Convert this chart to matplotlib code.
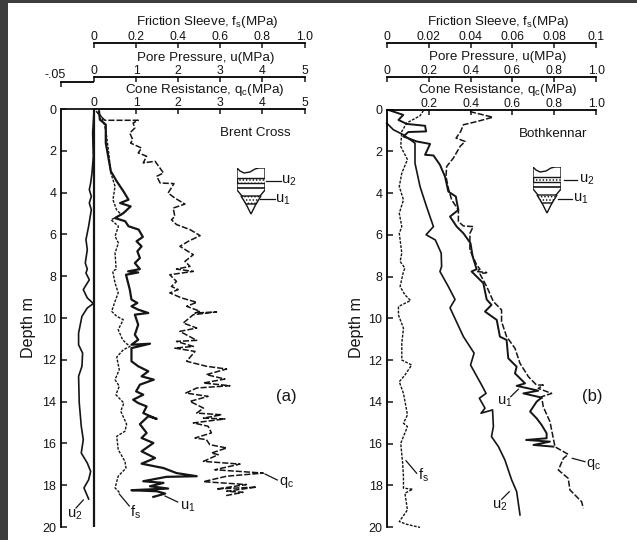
import matplotlib
matplotlib.use("Agg")
import matplotlib.pyplot as plt
from matplotlib.lines import Line2D
from matplotlib.patches import Polygon, Rectangle

plt.rcParams['font.family'] = ['Liberation Sans', 'DejaVu Sans']
plt.rcParams['mathtext.default'] = 'regular'
plt.rcParams['hatch.linewidth'] = 0.7

W, H = 637, 540
INK = '#151515'

#%% Brent Cross: depth (m), qc (MPa), u1 (MPa), u2 (MPa), fs (MPa)
bc_qc_d = [0.1,.27,.54,.54,.67,.91,1.15,1.47,1.63,1.87,2.1,2.26,2.58,2.5,3.06,3.22,3.54,3.57,4.02,4.26,4.55,4.74,5.14,5.3,5.53,5.77,6.06,6.33,6.57,6.97,7.29,7.53,7.66,
           7.77,7.85,7.93,8.25,8.49,8.64,8.8,9.04,9.25,9.44,9.68,9.76,9.71,9.84,10.24,10.48,10.64,11.07,11.12,11.36,11.44,11.6,12.07,12.31,12.44,12.71,12.92,13.11,13.24,13.35,13.59,13.75,13.99,14.31,14.55,14.63,14.79,14.83,15.02,15.18,15.5,15.74,15.82,16.06,16.22,16.46,16.54,16.86,16.99,17.26,17.42,17.57,17.83,17.97,18.18,18.09,18.29,18.34,18.5]
bc_qc = [.05,.12,.26,1.05,.93,.97,.85,.92,.87,1.13,1.05,1.25,1.17,1.45,1.65,1.49,1.57,1.90,1.76,1.92,2.16,1.88,1.92,1.84,1.96,2.28,2.52,2.24,2.04,2.36,2.16,2.28,1.96,
         2.36,2.08,1.80,1.96,1.84,2.0,1.80,2.08,2.44,2.2,2.52,2.4,2.91,2.36,2.12,2.44,2.04,2.44,1.96,2.36,1.92,2.4,2.2,2.67,3.15,2.67,3.11,2.6,3.23,2.44,2.18,2.71,2.28,2.6,2.44,3.03,2.6,3.11,2.36,2.71,2.79,2.4,2.67,2.75,3.15,2.79,2.95,2.6,3.47,2.87,4.02,3.15,2.6,3.62,2.91,3.86,3.15,3.54,3.13]

bc_u1_d = [.11,.51,.75,1.63,2.98,3.46,3.94,4.34,4.5,4.66,4.98,5.22,5.37,5.61,5.77,6.12,6.33,6.57,6.81,7.13,7.37,7.66,
           7.77,7.82,7.93,8.64,9.12,9.28,9.44,9.6,9.76,9.84,10.32,10.8,11.04,11.28,11.23,11.44,12.07,12.31,12.55,12.79,12.95,13.19,13.51,13.67,13.91,14.07,14.23,14.55,14.83,14.7,15.08,15.5,15.74,15.98,16.38,16.7,16.97,17.18,17.42,17.57,17.6,17.81,17.89,18.05,18.16,18.24,18.29,18.4,18.56]
bc_u1 = [.12,.14,.28,.28,.40,.54,.70,.82,.62,.87,.70,.50,.74,.82,1.06,1.16,1.01,1.13,1.03,1.09,.97,1.09,
         .81,1.05,.76,.85,.89,1.03,.89,1.05,1.29,.97,1.05,.97,1.05,.89,1.33,.89,.89,1.05,1.29,1.13,1.42,1.09,1.0,1.17,.93,1.05,1.25,1.17,1.49,1.29,1.09,1.25,1.13,1.41,1.13,1.45,1.13,1.65,1.96,2.44,1.72,1.17,1.65,1.33,1.76,.89,1.49,1.69,1.41]

bc_fs_d = [.27,.75,1.31,2.11,3.06,3.7,4.34,4.82,5.06,5.3,5.61,6.09,6.41,6.89,7.66,
           7.77,8.32,8.8,9.2,9.68,9.92,10.08,10.56,11.04,11.23,11.36,11.52,11.87,12.47,12.95,13.27,13.67,14.07,14.46,15.08,15.42,15.66,16.3,16.86,17.18,17.57,18.13,18.37]
bc_fs = [.03,.05,.06,.07,.08,.10,.09,.107,.13,.081,.116,.10,.116,.10,.105,
         .089,.10,.115,.10,.084,.108,.139,.115,.136,.155,.171,.139,.108,.12,.10,.12,.104,.142,.127,.155,.147,.108,.115,.147,.152,.115,.10,.123]

bc_u2_d = [.1,1.15,2.26,3.06,3.54,3.86,4.18,4.5,4.82,5.61,6.25,6.73,7.37,7.66,
           7.85,8.17,8.64,9.04,9.31,9.52,9.92,10.72,11.28,11.68,12.31,12.79,14.07,15.18,15.82,16.46,16.94,17.34,17.74,18.13,18.66]
bc_u2 = [0,-.002,-.001,-.003,-.005,-.007,-.004,-.007,-.004,-.008,-.012,-.01,-.013,-.01,
         -.012,-.007,-.016,-.01,-.001,-.01,-.018,-.023,-.023,-.017,-.018,-.023,-.022,-.019,-.016,-.019,-.01,-.005,-.008,-.015,-.008]

#%% Bothkennar
bk_qc_d = [.1,.37,.58,.73,1.05,1.37,1.53,1.77,2.33,2.73,3.21,3.77,4.33,4.81,5.37,5.58,5.61,5.93,6.73,7.44,7.65,
           7.76,7.81,7.88,8.48,9.2,9.6,10.16,10.88,11.44,12.16,12.8,13.2,13.2,13.36,13.6,13.76,14.24,14.96,15.36,16.16,16.52,16.71,17.27,17.67,18.22,18.79,19.1]
bk_qc = [.397,.506,.429,.366,.353,.331,.374,.35,.318,.286,.283,.294,.31,.342,.342,.366,.413,.397,.397,.429,.445,
         .429,.477,.445,.477,.509,.548,.548,.572,.612,.636,.676,.715,.747,.723,.787,.739,.747,.779,.787,.803,.866,.843,.819,.866,.874,.93,.938]

bk_u1_d = [.02,.26,.5,.69,.78,1.05,1.08,1.29,1.53,1.65,2.17,2.2,2.65,3.21,3.93,4.17,4.41,4.81,5.13,5.61,5.93,6.41,7.04,7.65,
           7.76,8.32,9.1,9.36,9.68,10.08,10.88,11.04,11.92,12.32,12.64,13.12,13.24,13.36,13.47,13.6,13.8,14.0,14.47,14.79,15.11,15.51,15.75,15.83,15.91,16.07,16.15]
bk_u1 = [.008,.079,.056,.095,.183,.188,.103,.079,.143,.207,.183,.223,.254,.278,.294,.33,.334,.342,.302,.334,.366,.40,.41,.429,
         .405,.461,.477,.5,.469,.525,.54,.572,.58,.62,.612,.66,.62,.676,.723,.652,.739,.715,.684,.715,.739,.763,.763,.665,.779,.70,.795]

bk_u2_d = [.65,.97,1.21,1.61,2.57,3.69,4.65,5.61,6.0,6.25,6.88,7.52,
           7.76,8.48,9.1,9.5,10.88,11.67,12.24,13.2,13.6,13.83,14.31,14.55,14.39,15.19,15.67,16.15,16.79,17.74,18.3,19.42]
bk_u2 = [0,.032,.079,.135,.135,.159,.19,.223,.188,.232,.26,.262,
         .254,.294,.326,.302,.366,.417,.40,.453,.474,.442,.469,.45,.505,.509,.5,.533,.564,.596,.62,.636]

bk_fs_d = [.05,.3,.65,1.05,1.77,2.4,3.05,3.69,4.33,4.97,5.61,5.93,6.88,7.28,7.6,
           7.76,8.48,8.88,9.15,9.44,9.84,10.48,11.2,12,12.24,12.72,13.04,13.6,14.63,15.03,15.19,15.99,16.94,17.58,18.14,18.19,18.38,19.18,19.74,19.87,20.02]
bk_fs = [.0175,.0159,.0095,.0072,.0067,.0099,.0072,.006,.008,.006,.0072,.006,.0072,.0064,.0087,
         .008,.0064,.0087,.0114,.0056,.0056,.008,.0072,.0072,.0119,.0087,.006,.008,.0099,.008,.0099,.0067,.0076,.008,.008,.0124,.0087,.0099,.006,.0095,.0159]

depth_ticks = [0, 2, 4, 6, 8, 10, 12, 14, 16, 18, 20]
fs_labels_a = ['0', '0.2', '0.4', '0.6', '0.8', '1.0']
u_labels_a = ['0', '1', '2', '3', '4', '5']
fs_labels_b = ['0', '0.02', '0.04', '0.06', '0.08', '0.1']
u_labels_b = ['0', '0.2', '0.4', '0.6', '0.8', '1.0']
qc_labels_b = ['0.2', '0.4', '0.6', '0.8', '1.0']

#%%
fig = plt.figure(figsize=(W/100, H/100), dpi=100, facecolor='white')


def px_axes(x0, x1, y0, y1):
    return fig.add_axes([x0/W, 1-y1/H, (x1-x0)/W, (y1-y0)/H])


def px_text(x, y, s, size=9.6, **kw):
    kw.setdefault('ha', 'center')
    kw.setdefault('va', 'center')
    fig.text(x/W, 1-y/H, s, fontsize=size, color=INK, **kw)


def px_line(x0, y0, x1, y1, lw=0.9):
    fig.add_artist(Line2D([x0/W, x1/W], [1-y0/H, 1-y1/H], color=INK, lw=lw))


def top_axis(ax, offset_px, xlim, ticks, labels, bounds):
    ax.set_xlim(*xlim)
    ax.set_facecolor('none')
    for s in ['left', 'right', 'bottom']:
        ax.spines[s].set_visible(False)
    ax.spines['top'].set_position(('outward', offset_px*0.72))
    ax.spines['top'].set_bounds(*bounds)
    ax.spines['top'].set_linewidth(1.3)
    ax.xaxis.tick_top()
    ax.set_xticks(ticks)
    ax.set_xticklabels(labels, fontsize=8.8, color=INK)
    ax.tick_params(axis='x', direction='in', length=3.5, width=1.1, pad=0, color=INK)


def cone(x0, y0):
    # little piezocone sketch, unit = px
    ax = px_axes(x0, x0+28, y0, y0+47)
    ax.set_xlim(0, 28)
    ax.set_ylim(47, 0)
    ax.axis('off')
    outline = [(0, 0), (3, 3), (7, 5), (13, 4), (18, 1), (22, 0), (28, 0),
               (28, 22), (23, 28), (14, 46), (5, 28), (0, 22)]
    ax.add_patch(Polygon(outline, closed=True, fc='white', ec=INK, lw=1.0))
    ax.add_patch(Polygon([(0, 10), (28, 10), (28, 15), (0, 15)], closed=True,
                         fc='white', ec=INK, lw=1.0, hatch='.....'))
    ax.plot([0, 28], [20, 20], color=INK, lw=1.2)
    ax.add_patch(Polygon([(4, 28), (24, 28), (19, 36), (9, 36)], closed=True,
                         fc='white', ec=INK, lw=1.0, hatch='.....'))


def panel(x0, x1, y0, y1):
    ax = px_axes(x0, x1, y0, y1)
    ax.set_ylim(20, 0)
    ax.set_yticks(depth_ticks)
    ax.set_yticklabels([str(d) for d in depth_ticks], fontsize=9, color=INK)
    ax.tick_params(axis='y', direction='in', length=4.5, width=1.1, pad=3, color=INK)
    return ax


def show_depth_spine(ax):
    ax.spines['left'].set_visible(True)
    ax.spines['left'].set_linewidth(1.3)


#%% (a) Brent Cross
x0, xz, x5, yt, yb = 60.5, 94, 304.5, 109, 527
ax_a = panel(x0, x5, yt, yb)
per_mpa = (x5-xz)/5
left_mpa = -(xz-x0)/per_mpa
ax_a.set_xlim(left_mpa, 5)
ax_a.axvline(0, color=INK, lw=1.6)
ax_a.plot(bc_qc, bc_qc_d, color=INK, lw=1.1, ls=(0, (4, 1.3)), clip_on=False)
ax_a.plot(bc_u1, bc_u1_d, color=INK, lw=1.6, clip_on=False)

ax_fs = ax_a.twiny()
top_axis(ax_fs, 66, (left_mpa/5, 1), [0, .2, .4, .6, .8, 1.0], fs_labels_a, (0, 1))
ax_fs.plot(bc_fs, bc_fs_d, color=INK, lw=1.0, ls=(0, (2, 1)))

ax_u = ax_a.twiny()
top_axis(ax_u, 32, (left_mpa, 5), [0, 1, 2, 3, 4, 5], u_labels_a, (0, 5))

# u2 has its own stretched scale left of zero
ax_neg = ax_a.twiny()
neg_right = .05*(x5-x0)/(xz-x0) - .05
top_axis(ax_neg, 27, (-.05, neg_right), [-.05], [''], (-.05, -.002))
ax_neg.plot(bc_u2, bc_u2_d, color=INK, lw=1.2)
ax_neg.plot([-.05, -.002], [0, 0], color=INK, lw=1.3, clip_on=False)
px_text(55, 75, '-.05', size=9)

# twiny moves the ticks of the parent to the bottom, so set these last
top_axis(ax_a, 0, (left_mpa, 5), [0, 1, 2, 3, 4, 5], u_labels_a, (0, 5))
show_depth_spine(ax_a)

px_text(207, 22, 'Friction Sleeve, f$_s$(MPa)')
px_text(205.5, 58, 'Pore Pressure, u(MPa)')
px_text(204.5, 90, 'Cone Resistance, q$_c$(MPa)')
px_text(255.5, 133, 'Brent Cross')
px_text(286, 397, '(a)', size=12)
px_text(29, 328, 'Depth m', size=11.6, rotation=90)

cone(237, 168)
px_line(266, 181, 280.7, 181)
px_text(289, 181, 'u$_2$', size=10.5)
px_line(260, 199.3, 275, 199.3)
px_text(283, 200, 'u$_1$', size=10.5)

px_line(265, 474, 277.3, 480)
px_text(287, 483, 'q$_c$', size=10.5)
px_line(165, 496, 177.7, 502)
px_text(187.7, 507, 'u$_1$', size=10.5)
px_line(119.3, 494, 129.3, 506)
px_text(136, 512, 'f$_s$', size=10.5)
px_line(83.3, 500, 76, 508)
px_text(75, 515, 'u$_2$', size=10.5)

#%% (b) Bothkennar
x0, x1 = 386.7, 596.3
ax_b = panel(x0, x1, 109.5, 527)
ax_b.set_xlim(0, 1)
ax_b.plot(bk_qc, bk_qc_d, color=INK, lw=1.1, ls=(0, (4, 1.3)), clip_on=False)
ax_b.plot(bk_u1, bk_u1_d, color=INK, lw=1.4, clip_on=False)
ax_b.plot(bk_u2, bk_u2_d, color=INK, lw=1.2, clip_on=False)

ax_fs_b = ax_b.twiny()
top_axis(ax_fs_b, 66.5, (0, .1), [0, .02, .04, .06, .08, .1], fs_labels_b, (0, .1))
ax_fs_b.plot(bk_fs, bk_fs_d, color=INK, lw=1.0, ls=(0, (2, 1)), clip_on=False)

ax_u_b = ax_b.twiny()
top_axis(ax_u_b, 32.5, (0, 1), [0, .2, .4, .6, .8, 1.0], u_labels_b, (0, 1))

top_axis(ax_b, 0, (0, 1), [.2, .4, .6, .8, 1.0], qc_labels_b, (0, 1))
show_depth_spine(ax_b)

px_text(498, 22, 'Friction Sleeve, f$_s$(MPa)')
px_text(498, 57, 'Pore Pressure, u(MPa)')
px_text(498, 90, 'Cone Resistance, q$_c$(MPa)')
px_text(552.7, 134, 'Bothkennar')
px_text(592, 397, '(b)', size=12)
px_text(357, 327, 'Depth m', size=11.6, rotation=90)

cone(533, 167)
px_line(564.3, 180, 577.3, 180)
px_text(586.7, 180, 'u$_2$', size=10.5)
px_line(558.3, 199, 571.7, 199)
px_text(580.7, 199, 'u$_1$', size=10.5)

px_line(406, 460.7, 416.7, 473.3)
px_text(423.3, 475, 'f$_s$', size=10.5)
px_line(518.3, 389.3, 510.7, 396.7)
px_text(505, 401.7, 'u$_1$', size=10.5)
px_line(509.3, 491.7, 501.7, 499.3)
px_text(500, 506, 'u$_2$', size=10.5)
px_line(572.3, 458.3, 585, 461.7)
px_text(594, 464, 'q$_c$', size=10.5)

# dark frame of the screenshot
fig.add_artist(Rectangle((0, 1-3/H), 1, 3/H, transform=fig.transFigure, fc='#3d3d3d', ec='none'))
fig.add_artist(Rectangle((0, 0), 8/W, 1, transform=fig.transFigure, fc='#3d3d3d', ec='none'))

fig.savefig("out.png", dpi=100)
